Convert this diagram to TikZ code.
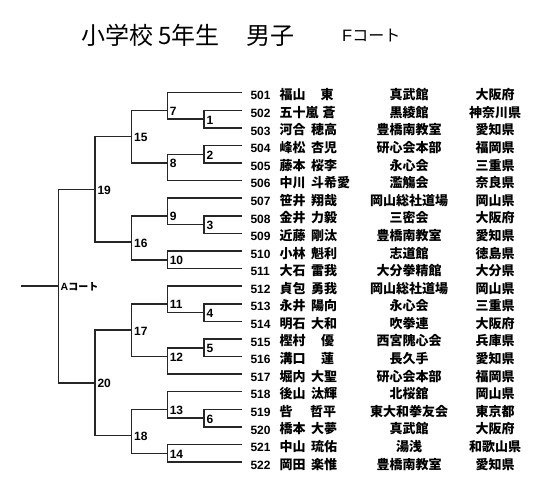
\documentclass[tikz,border=0pt]{standalone}
\usepackage{fontspec}
\setmainfont{Liberation Sans}
\newfontfamily\jp{Noto Sans CJK JP}
\newcommand\Y[1]{92.7+17.59*(#1-1)}
\def\xr{241.5}
\newcommand\leaf[8]{%
  \coordinate (L#3) at (#2,{\Y{#1}});
  \coordinate (R#3) at (\xr,{\Y{#1}});
  \draw[bline] (L#3) -- (R#3);
  \node[num] (n#3) at (250.3,{\Y{#1}+7.2}) {#3};
  \node[nm] (f#3) at (279.5,{\Y{#1}+7}) {#4};
  \node[nm] (g#3) at (#5,{\Y{#1}+7}) {#6};
  \node[ctr] (d#3) at (409,{\Y{#1}+7}) {#7};
  \node[ctr] (p#3) at (495,{\Y{#1}+7}) {#8};
}
\newcommand\match[7]{%
  \coordinate (#1t) at (#2,{\Y{#3}});
  \coordinate (#1b) at (#2,{\Y{#4}});
  \coordinate (#1) at (#2,{\Y{#5}});
  \coordinate (#1p) at (#6,{\Y{#5}});
  \draw[bline] (#1t) -- (#1b);
  \draw[bline] (#1) -- (#1p);
  \node[lbl] (#1l) at (#1) {#7};
}
\begin{document}
\begin{tikzpicture}[x=1pt,y=-1pt,
  bline/.style={draw=black!85, line width=1.5pt, line cap=rect},
  num/.style={anchor=base west, inner sep=0pt, font=\bfseries\fontsize{12}{13}\selectfont},
  nm/.style={anchor=base west, inner sep=0pt, font=\jp\bfseries\fontsize{13}{14}\selectfont},
  ctr/.style={anchor=base, inner sep=0pt, font=\jp\bfseries\fontsize{13}{14}\selectfont},
  lbl/.style={anchor=west, inner sep=0pt, xshift=2.3pt, yshift=-0.8pt, font=\bfseries\fontsize{12}{13}\selectfont},
  ttl/.style={anchor=base west, inner sep=0pt, font=\jp\fontsize{24}{26}\selectfont}]
\fill[white] (0,0) rectangle (544,491);
\useasboundingbox (0,0) rectangle (544,491);
% title
\node[ttl] (t1) at (81.5,44.5) {小学校};
\node[ttl] (t2) at (158,44.5) {5年生};
\node[ttl] (t3) at (246,44.5) {男子};
\node[anchor=base west, inner sep=0pt, font=\fontsize{16.5}{18}\selectfont] (court) at (342,41.5) {F{\jp\fontsize{16}{18}\selectfont コート}};
% leaves
\def\cA{204}\def\cB{167.3}\def\cC{131.7}\def\cD{95}\def\cE{58.7}
\leaf{1}{\cB}{501}{福山}{320.5}{東}{真武館}{大阪府}
\leaf{2}{\cA}{502}{五十嵐}{322.5}{蒼}{黒綾館}{神奈川県}
\leaf{3}{\cA}{503}{河合}{311}{穂高}{豊橋南教室}{愛知県}
\leaf{4}{\cA}{504}{峰松}{311}{杏児}{研心会本部}{福岡県}
\leaf{5}{\cA}{505}{藤本}{311}{桜李}{永心会}{三重県}
\leaf{6}{\cB}{506}{中川}{311}{斗希愛}{濫觴会}{奈良県}
\leaf{7}{\cB}{507}{笹井}{311}{翔哉}{岡山総社道場}{岡山県}
\leaf{8}{\cA}{508}{金井}{311}{力毅}{三密会}{大阪府}
\leaf{9}{\cA}{509}{近藤}{311}{剛汰}{豊橋南教室}{愛知県}
\leaf{10}{\cB}{510}{小林}{311}{魁利}{志道館}{徳島県}
\leaf{11}{\cB}{511}{大石}{311}{雷我}{大分拳精館}{大分県}
\leaf{12}{\cB}{512}{貞包}{311}{勇我}{岡山総社道場}{岡山県}
\leaf{13}{\cA}{513}{永井}{311}{陽向}{永心会}{三重県}
\leaf{14}{\cA}{514}{明石}{311}{大和}{吹拳連}{大阪府}
\leaf{15}{\cA}{515}{樫村}{321}{優}{西宮隗心会}{兵庫県}
\leaf{16}{\cA}{516}{溝口}{321}{蓮}{長久手}{愛知県}
\leaf{17}{\cB}{517}{堀内}{311}{大聖}{研心会本部}{福岡県}
\leaf{18}{\cB}{518}{後山}{311}{汰輝}{北桜舘}{岡山県}
\leaf{19}{\cA}{519}{呰}{310}{哲平}{東大和拳友会}{東京都}
\leaf{20}{\cA}{520}{橋本}{311}{大夢}{真武館}{大阪府}
\leaf{21}{\cB}{521}{中山}{311}{琉佑}{湯浅}{和歌山県}
\leaf{22}{\cB}{522}{岡田}{311}{楽惟}{豊橋南教室}{愛知県}
% matches
\match{m1}{\cA}{2}{3}{2.5}{\cB}{1}
\match{m2}{\cA}{4}{5}{4.5}{\cB}{2}
\match{m3}{\cA}{8}{9}{8.5}{\cB}{3}
\match{m4}{\cA}{13}{14}{13.5}{\cB}{4}
\match{m5}{\cA}{15}{16}{15.5}{\cB}{5}
\match{m6}{\cA}{19}{20}{19.5}{\cB}{6}
\match{m7}{\cB}{1}{2.5}{2}{\cC}{7}
\match{m8}{\cB}{4.5}{6}{5}{\cC}{8}
\match{m9}{\cB}{7}{8.5}{8}{\cC}{9}
\match{m10}{\cB}{10}{11}{10.5}{\cC}{10}
\match{m11}{\cB}{12}{13.5}{13}{\cC}{11}
\match{m12}{\cB}{15.5}{17}{16}{\cC}{12}
\match{m13}{\cB}{18}{19.5}{19}{\cC}{13}
\match{m14}{\cB}{21}{22}{21.5}{\cC}{14}
\match{m15}{\cC}{2}{5}{3.5}{\cD}{15}
\match{m16}{\cC}{8}{10.5}{9.5}{\cD}{16}
\match{m17}{\cC}{13}{16}{14.5}{\cD}{17}
\match{m18}{\cC}{19}{21.5}{20.5}{\cD}{18}
\match{m19}{\cD}{3.5}{9.5}{6.5}{\cE}{19}
\match{m20}{\cD}{14.5}{20.5}{17.5}{\cE}{20}
\match{mf}{\cE}{6.5}{17.5}{12}{21.7}{}
\node[anchor=base west, inner sep=0pt, font=\bfseries\fontsize{10.5}{12}\selectfont] (acourt) at (60.5,290) {A{\jp\fontsize{10}{12}\selectfont コート}};
\end{tikzpicture}
\end{document}
